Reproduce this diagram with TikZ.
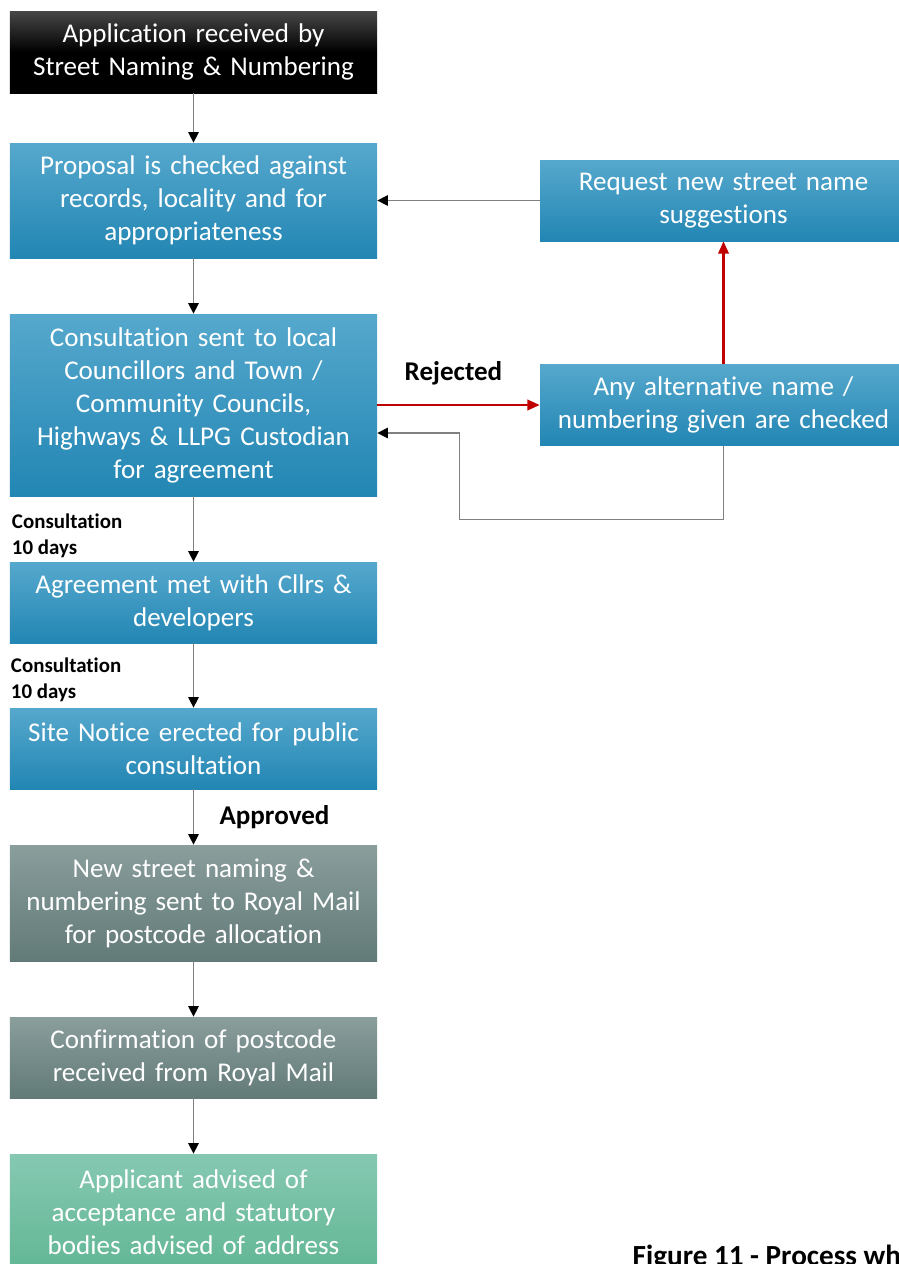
\documentclass[tikz,border=0pt]{standalone}
\usepackage{fontspec}
\setmainfont{Carlito}[Ligatures=NoCommon]
\usepackage{tikz}
\usetikzlibrary{arrows.meta}

\definecolor{blueTop}{HTML}{56A8CD}
\definecolor{blueBot}{HTML}{2286B3}
\definecolor{greyTop}{HTML}{8A9E9C}
\definecolor{greyBot}{HTML}{627A78}
\definecolor{greenTop}{HTML}{86C8B2}
\definecolor{greenBot}{HTML}{62B795}
\definecolor{lineGrey}{HTML}{808080}
\definecolor{lineRed}{HTML}{C00000}

\begin{document}
\begin{tikzpicture}[node distance=3.09cm,
  box/.style={rectangle,text=white,align=center,text width=7.34cm,inner sep=0pt,minimum height=1.62cm,font=\fontsize{15.4}{18.8}\selectfont},
  blackbox/.style={box,top color=black!72,bottom color=black,middle color=black},
  bluebox/.style={box,top color=blueTop,bottom color=blueBot},
  greybox/.style={box,top color=greyTop,bottom color=greyBot},
  greenbox/.style={box,top color=greenTop,bottom color=greenBot},
  line/.style={draw=lineGrey,line width=0.6pt,-{Triangle[color=black,length=6pt,width=6pt]}},
  redline/.style={draw=lineRed,line width=1.2pt,-{Triangle[color=lineRed,length=7pt,width=6pt]}},
  lbl/.style={inner sep=0pt,text=black,font=\bfseries\fontsize{15.4}{18.8}\selectfont},
  small/.style={inner sep=0pt,align=left,font=\bfseries\fontsize{11.9}{14.8}\selectfont}]
  \useasboundingbox (-3.87,1.04) rectangle (14.11,-24.24);
  \node[blackbox,minimum height=1.64cm] (1) {Application received by\\Street Naming \& Numbering};
  \node[bluebox,minimum height=2.3cm] (2) [node distance=2.97cm,below of=1] {Proposal is checked against\\records, locality and for\\appropriateness};
  \node[bluebox,minimum height=3.64cm] (3) [node distance=4.09cm,below of=2] {Consultation sent to local\\Councillors and Town /\\Community Councils,\\Highways \& LLPG Custodian\\for agreement};
  \node[bluebox] (4) [node distance=3.95cm,below of=3] {Agreement met with Cllrs \&\\developers};
  \node[bluebox] (5) [node distance=2.92cm,below of=4] {Site Notice erected for public\\consultation};
  \node[greybox,minimum height=2.32cm] (6) [below of=5] {New street naming \&\\numbering sent to Royal Mail\\for postcode allocation};
  \node[greybox] (7) [below of=6] {Confirmation of postcode\\received from Royal Mail};
  \node[greenbox,minimum height=2.32cm] (8) [below of=7] {Applicant advised of\\acceptance and statutory\\bodies advised of address};
  \node[bluebox] (9) [node distance=10.6cm,right of=2] {Request new street name\\suggestions};
  \node[bluebox] (10) [node distance=10.6cm,right of=3] {Any alternative name /\\numbering given are checked};
  \node[small,anchor=north west] (11) at ([xshift=0.04cm,yshift=-0.34cm]3.south west) {Consultation\\10 days};
  \node[small,anchor=north west] (12) at ([xshift=0.02cm,yshift=-0.28cm]4.south west) {Consultation\\10 days};
  \node[lbl,font=\bfseries\fontsize{16.6}{20}\selectfont,anchor=base west] (13) at ([xshift=5.1cm,yshift=-1.06cm]8.east) {Figure 11 - Process wh};
  \path[line]
  (1) edge (2)
  (2) edge (3)
  (3) edge (4)
  (4) edge (5)
  (5) edge node [lbl,right=0.51cm] {Approved} (6)
  (6) edge (7)
  (7) edge (8)
  (9) edge (2);
  \path[redline]
  (3) edge node [lbl,above=0.38cm,xshift=-0.1cm] {Rejected} (10)
  (10) edge (9);
  \draw[line] (10.south) -- ++(0,-1.48) -| ([xshift=1.64cm,yshift=-0.56cm]3.east) -- ([yshift=-0.56cm]3.east);
\end{tikzpicture}
\end{document}
